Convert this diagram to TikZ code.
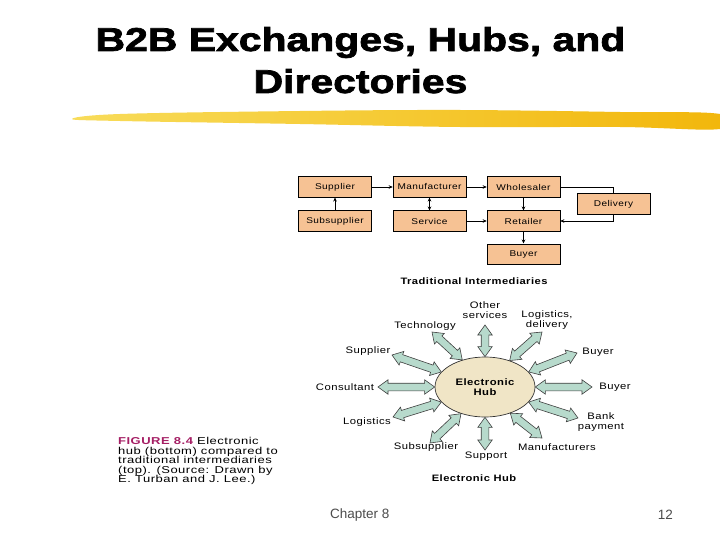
\documentclass[tikz,border=0pt]{standalone}
\usepackage{fontspec}
\setmainfont{Liberation Sans}
\newfontfamily\titlefont{Liberation Sans}[FakeStretch=1.24, BoldFeatures={FakeBold=2.2}]
\newfontfamily\lblfont{Liberation Sans}[FakeStretch=1.2, LetterSpace=5]
\newfontfamily\capfont{Liberation Sans}[FakeStretch=1.3, LetterSpace=5]
\usetikzlibrary{calc,arrows.meta,shapes.geometric}
\definecolor{boxfill}{RGB}{246,194,148}
\definecolor{hubfill}{RGB}{240,229,198}
\definecolor{arrfill}{RGB}{183,218,204}
\definecolor{figmag}{RGB}{165,30,100}
\definecolor{brushA}{RGB}{248,220,90}
\definecolor{brushB}{RGB}{242,182,10}
\tikzset{
  box/.style={draw=black, line width=0.5pt, fill=boxfill, minimum width=73pt, minimum height=20.5pt, inner sep=0pt, font=\lblfont\fontsize{8.4}{9}\selectfont},
  lbl/.style={inner sep=0pt, align=center, font=\lblfont\fontsize{9.4}{10}\selectfont},
  conn/.style={line width=0.6pt, -{Stealth[length=4pt,width=3.5pt]}},
  hubarrow/.style={fill=arrfill, draw=black!75, line width=0.6pt, line join=miter},
}
\newcommand\fatarrow[2]{%
  \path (#1) coordinate (fa) (#2) coordinate (fb);
  \path ($(fa)!10pt!(fb)$) coordinate (fa1) ($(fb)!10pt!(fa)$) coordinate (fb1);
  \filldraw[hubarrow] (fa) -- ($(fa1)!7.2pt!90:(fb)$) -- ($(fa1)!3.8pt!90:(fb)$)
    -- ($(fb1)!3.8pt!-90:(fa)$) -- ($(fb1)!7.2pt!-90:(fa)$) -- (fb)
    -- ($(fb1)!7.2pt!90:(fa)$) -- ($(fb1)!3.8pt!90:(fa)$)
    -- ($(fa1)!3.8pt!-90:(fb)$) -- ($(fa1)!7.2pt!-90:(fb)$) -- cycle;}
\begin{document}
\begin{tikzpicture}[x=1pt,y=-1pt]
\useasboundingbox[fill=white] (0,0) rectangle (720,540);

% title
\node[anchor=base, inner sep=0pt, font=\titlefont\bfseries\fontsize{33}{36}\selectfont] (t1) at (360.5,51) {B2B Exchanges, Hubs, and};
\node[anchor=base, inner sep=0pt, font=\titlefont\bfseries\fontsize{33}{36}\selectfont] (t2) at (360.5,93) {Directories};

% brush stroke
\shade[left color=brushA, right color=brushB]
  plot[smooth cycle, tension=0.6] coordinates {(72,119) (120,114) (300,111) (460,110) (620,112) (720,114)
  (720,129) (620,127) (460,127) (300,124) (120,121)};

% traditional intermediaries
\node[box] (sup) at (335,187) {Supplier};
\node[box] (man) at (429.5,187) {Manufacturer};
\node[box] (who) at (523.5,187) {Wholesaler};
\node[box] (del) at (613.5,204) {Delivery};
\node[box] (sub) at (335,221) {Subsupplier};
\node[box] (ser) at (429.5,221) {Service};
\node[box] (ret) at (523.5,221) {Retailer};
\node[box] (buy) at (523.5,254) {Buyer};
\draw[conn] (sup) -- (man);
\draw[conn] (man) -- (who);
\draw[conn] (sub) -- (sup);
\draw[conn,{Stealth[length=4pt,width=3.5pt]}-{Stealth[length=4pt,width=3.5pt]}] (man) -- (ser);
\draw[conn] (ser) -- (ret);
\draw[conn] (who) -- (ret);
\draw[conn] (ret) -- (buy);
\draw[line width=0.6pt] (who.east) -| (del.north);
\draw[conn] (del.south) |- (ret.east);
\node[inner sep=0pt, font=\lblfont\bfseries\fontsize{9.3}{10}\selectfont] (cap1) at (474,281) {Traditional Intermediaries};

% electronic hub
\node[ellipse, draw=black!80, line width=0.7pt, fill=hubfill, minimum width=100pt, minimum height=60pt, inner sep=0pt, align=center, font=\lblfont\bfseries\fontsize{9.4}{10}\selectfont] (hub) at (485,387) {Electronic\\Hub};

\node[lbl] (oth) at (485,310) {Other\\services};
\node[lbl] (logd) at (547,320) {Logistics,\\delivery};
\node[lbl] (tech) at (425,326) {Technology};
\node[lbl] (supl) at (368,351) {Supplier};
\node[lbl] (buy1) at (598,352) {Buyer};
\node[lbl] (cons) at (345,387) {Consultant};
\node[lbl] (buy2) at (615,387) {Buyer};
\node[lbl] (logi) at (367,422) {Logistics};
\node[lbl] (bank) at (601,422) {Bank\\payment};
\node[lbl] (subl) at (426,447) {Subsupplier};
\node[lbl] (supp) at (486,456) {Support};
\node[lbl] (manu) at (557,447) {Manufacturers};

\coordinate (eoth) at (485,325);
\coordinate (elogd) at (542,332);
\coordinate (etech) at (432,332);
\coordinate (esupl) at (392,355);
\coordinate (ebuy1) at (577,353);
\coordinate (econs) at (378,387);
\coordinate (ebuy2) at (592,387);
\coordinate (elogi) at (393,417);
\coordinate (ebank) at (578,418);
\coordinate (esubl) at (430,443);
\coordinate (esupp) at (485,450);
\coordinate (emanu) at (542,438);

\fatarrow{hub.90}{eoth}
\fatarrow{hub.47}{elogd}
\fatarrow{hub.130}{etech}
\fatarrow{hub.161.6}{esupl}
\fatarrow{hub.19.5}{ebuy1}
\fatarrow{hub.180}{econs}
\fatarrow{hub.0}{ebuy2}
\fatarrow{hub.199.6}{elogi}
\fatarrow{hub.341.6}{ebank}
\fatarrow{hub.228}{esubl}
\fatarrow{hub.270}{esupp}
\fatarrow{hub.314}{emanu}

\node[inner sep=0pt, font=\lblfont\bfseries\fontsize{9.3}{10}\selectfont] (cap2) at (474,478) {Electronic Hub};

% figure caption
\node[anchor=north west, inner sep=0pt, align=left, font=\capfont\fontsize{10}{9.6}\selectfont] (figcap) at (118,437)
  {{\color{figmag}\bfseries FIGURE 8.4} Electronic\\hub (bottom) compared to\\traditional intermediaries\\(top). (Source: Drawn by\\E. Turban and J. Lee.)};

% footer
\node[anchor=west, inner sep=0pt, text=black!70, font=\fontsize{13.5}{15}\selectfont] (chap) at (330,515) {Chapter 8};
\node[anchor=east, inner sep=0pt, text=black!70, font=\fontsize{13.5}{15}\selectfont] (pg) at (673,515) {12};
\end{tikzpicture}
\end{document}
